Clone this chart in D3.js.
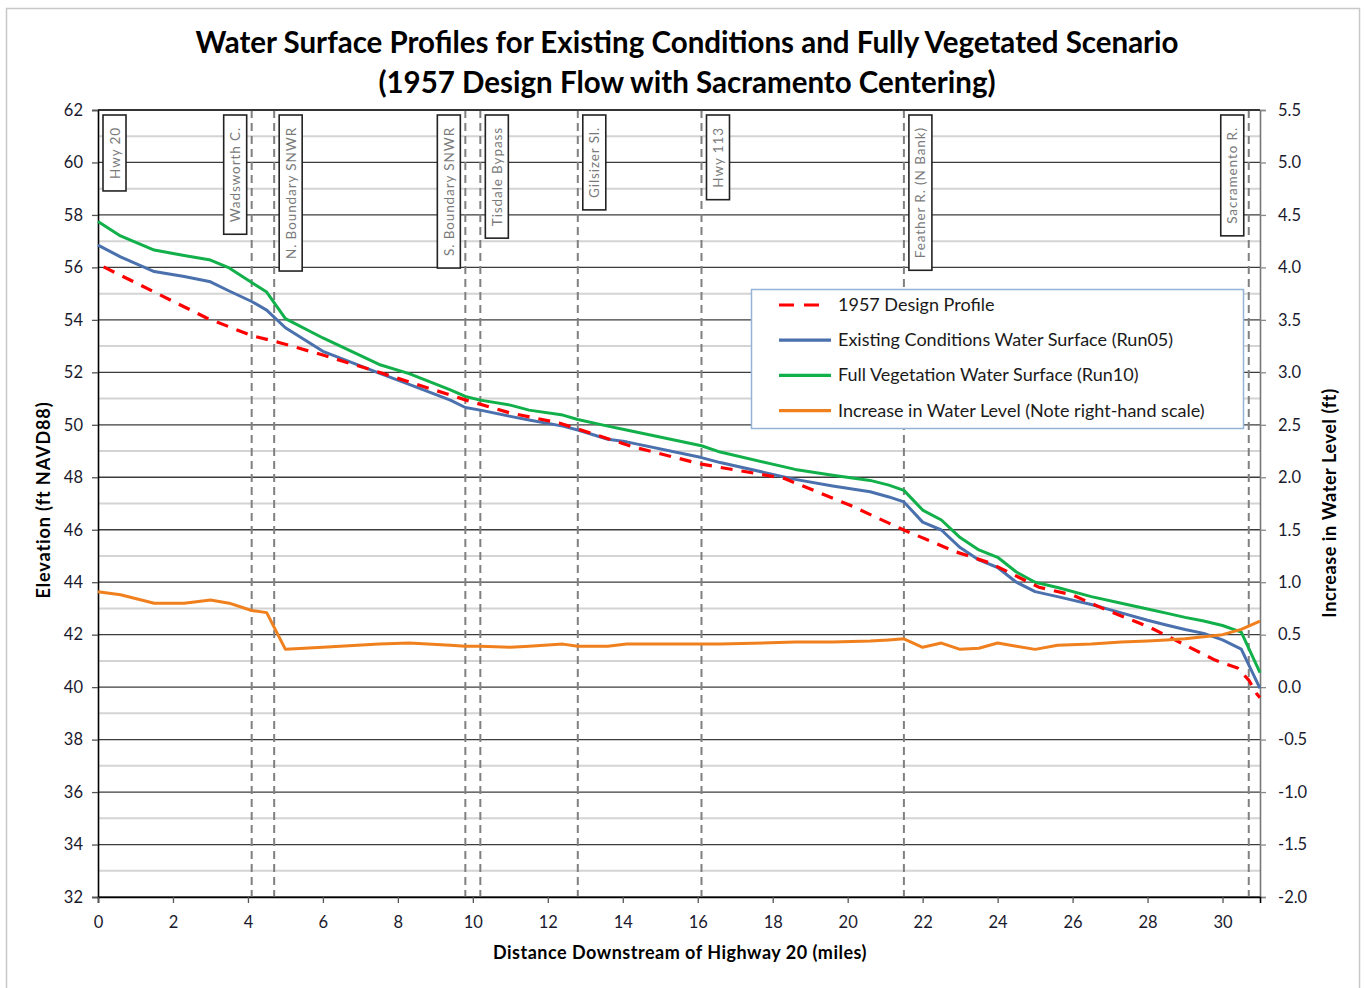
<!DOCTYPE html>
<html><head><meta charset="utf-8">
<script src="https://cdn.jsdelivr.net/npm/d3@7"></script>
<style>body{margin:0;background:#fff} svg{display:block} text{font-family:Lato,"Open Sans",sans-serif}</style>
</head><body><svg id="c" width="1364" height="988"></svg>
<script>
// ---------------- DATA ----------------
const titleLines = ["Water Surface Profiles for Existing Conditions and Fully Vegetated Scenario",
                    "(1957 Design Flow with Sacramento Centering)"];
const xTitle = "Distance Downstream of Highway 20 (miles)";
const yLeftTitle = "Elevation (ft NAVD88)";
const yRightTitle = "Increase in Water Level (ft)";

const stations = [0, 0.6, 1.5, 2.3, 3.0, 3.5, 4.1, 4.5, 5.0, 6.0, 7.5, 8.3, 9.4, 9.8, 10.2, 11.0, 11.5, 12.4, 12.8, 13.6, 14.1,
  16.1, 16.6, 18.6, 19.6, 20.6, 21.1, 21.5, 22.0, 22.5, 23.0, 23.5, 24.0, 24.5, 25.0, 25.6, 26.5, 27.3, 28.0, 28.5, 29.0,
  29.5, 30.0, 30.5, 31.0];
const existingElev = [56.85, 56.4, 55.84, 55.65, 55.45, 55.1, 54.7, 54.37, 53.7, 52.8, 51.97, 51.54, 50.94, 50.66, 50.56,
  50.32, 50.18, 49.95, 49.8, 49.45, 49.35, 48.75, 48.56, 47.92, 47.67, 47.45, 47.25, 47.06, 46.29, 45.99, 45.32, 44.85,
  44.56, 44.0, 43.64, 43.45, 43.15, 42.83, 42.55, 42.37, 42.2, 42.05, 41.8, 41.45, 39.95];
const vegetatedElev = [57.75, 57.2, 56.66, 56.45, 56.28, 55.98, 55.42, 55.06, 54.05, 53.31, 52.3, 51.95, 51.33, 51.08, 50.94,
  50.75, 50.56, 50.37, 50.2, 49.95, 49.8, 49.2, 48.96, 48.3, 48.08, 47.88, 47.7, 47.5, 46.75, 46.37, 45.7, 45.23, 44.95,
  44.39, 44.0, 43.8, 43.45, 43.2, 42.98, 42.82, 42.66, 42.52, 42.35, 42.1, 40.55];
const increaseFt = [0.91, 0.88, 0.80, 0.80, 0.83, 0.80, 0.73, 0.71, 0.36, 0.38, 0.41, 0.42, 0.40, 0.39, 0.39, 0.38, 0.39,
  0.41, 0.39, 0.39, 0.41, 0.41, 0.41, 0.43, 0.43, 0.44, 0.45, 0.46, 0.38, 0.42, 0.36, 0.37, 0.42, 0.39, 0.36, 0.40, 0.41,
  0.43, 0.44, 0.45, 0.46, 0.48, 0.50, 0.55, 0.63];
const designMiles = [0.15, 2.9, 4.1, 4.8, 6.0, 7.5, 9.8, 11.0, 12.3, 14.3, 16.1, 18.3, 20.05, 21.5, 22.9, 23.8, 25.1, 26.0,
  26.9, 28.05, 28.9, 29.8, 30.4, 30.7, 30.9, 31.0];
const designElev = [56.02, 54.07, 53.4, 53.15, 52.66, 52.0, 50.95, 50.45, 50.07, 49.15, 48.5, 47.96, 46.94, 45.99, 45.15,
  44.73, 43.81, 43.51, 42.94, 42.29, 41.68, 41.03, 40.73, 40.27, 39.77, 39.6];

const landmarkMiles = [0, 4.1, 4.7, 9.8, 10.2, 12.8, 16.1, 21.5, 30.7];
const landmarkNames = ["Hwy 20", "Wadsworth C.", "N. Boundary SNWR", "S. Boundary SNWR", "Tisdale Bypass",
  "Gilsizer Sl.", "Hwy 113", "Feather R. (N Bank)", "Sacramento R."];

const seriesNames = ["1957 Design Profile", "Existing Conditions Water Surface (Run05)",
  "Full Vegetation Water Surface (Run10)", "Increase in Water Level (Note right-hand scale)"];

const xTicks = d3.range(0, 31, 2);
const yLeftTicks = d3.range(32, 63, 2);
const yRightTicks = d3.range(-2, 5.51, 0.5);
const yMinorTicks = d3.range(33, 62, 2);

// ---------------- LAYOUT ----------------
const svg = d3.select("#c");
const L = 98, R = 1260, T = 110, B = 897;
const x = d3.scaleLinear().domain([0, 31]).range([L, R]);
const y = d3.scaleLinear().domain([32, 62]).range([B, T]);
const y2 = d3.scaleLinear().domain([-2, 5.5]).range([B, T]);
const colors = ["#ff0000", "#4a71ad", "#12b04a", "#f0801e"];
const leftSide = new Set(["Wadsworth C.", "S. Boundary SNWR", "Sacramento R."]);

// outer frame
svg.append("rect").attr("x", 6.5).attr("y", 8.5).attr("width", 1353).attr("height", 990)
  .attr("fill", "#fff").attr("stroke", "#c8c8c8").attr("stroke-width", 1.5);

// title
svg.selectAll("text.title").data(titleLines).join("text").attr("class", "title")
  .attr("x", 687).attr("y", (d, i) => 53 + i * 40).attr("text-anchor", "middle")
  .attr("font-size", 29.5).attr("font-weight", 700).attr("fill", "#000").text(d => d);

// minor gridlines
svg.append("g").selectAll("line").data(yMinorTicks).join("line")
  .attr("x1", L).attr("x2", R).attr("y1", d => y(d)).attr("y2", d => y(d))
  .attr("stroke", "#d4d4d4").attr("stroke-width", 2);
// major gridlines
svg.append("g").selectAll("line").data(yLeftTicks).join("line")
  .attr("x1", L).attr("x2", R).attr("y1", d => y(d)).attr("y2", d => y(d))
  .attr("stroke", "#3c3c3c").attr("stroke-width", 1.3);

// landmark dashed lines
svg.append("g").selectAll("line").data(landmarkMiles.filter(d => d > 0)).join("line")
  .attr("x1", d => x(d)).attr("x2", d => x(d)).attr("y1", T).attr("y2", B)
  .attr("stroke", "#808080").attr("stroke-width", 2).attr("stroke-dasharray", "8,5");

// landmark label boxes
const lg = svg.append("g");
landmarkNames.forEach((name, i) => {
  const px = x(landmarkMiles[i]);
  const g = lg.append("g");
  const t = g.append("text").attr("font-size", 13.5).attr("fill", "#7a7a7a").attr("letter-spacing", 0.9)
    .attr("text-anchor", "middle").text(name);
  const len = t.node().getComputedTextLength();
  const h = len + 24, w = 23, top = 115;
  const bx = leftSide.has(name) ? px - 5 - w : px + 5;
  g.insert("rect", "text").attr("x", bx).attr("y", top).attr("width", w).attr("height", h)
    .attr("fill", "#fff").attr("stroke", "#222").attr("stroke-width", 1.6);
  t.attr("transform", `translate(${bx + w / 2 + 5},${top + h / 2}) rotate(-90)`);
});

// axes
const hyphen = f => d => f(d).replace("\u2212", "-");
const axL = svg.append("g").attr("transform", `translate(${L},0)`)
  .call(d3.axisLeft(y).tickValues(yLeftTicks).tickSize(6).tickPadding(9).tickFormat(d3.format("d")));
const axR = svg.append("g").attr("transform", `translate(${R},0)`)
  .call(d3.axisRight(y2).tickValues(yRightTicks).tickSize(6).tickPadding(12).tickFormat(hyphen(d3.format(".1f"))));
const axB = svg.append("g").attr("transform", `translate(0,${B})`)
  .call(d3.axisBottom(x).tickValues(xTicks).tickSize(6).tickPadding(13).tickFormat(d3.format("d")));
[axL, axR, axB].forEach(a => {
  a.selectAll("text").attr("font-size", 16.5).attr("fill", "#1a1a2e").style("font-family", "Lato, sans-serif");
  a.selectAll("line").attr("stroke", "#555").attr("stroke-width", 1.3);
  a.select(".domain").attr("stroke", "#000").attr("stroke-width", 1.6);
});
axR.select(".domain").attr("stroke", "#777");
axR.selectAll("line").attr("stroke", "#888");
svg.append("line").attr("x1", L).attr("x2", R).attr("y1", T).attr("y2", T).attr("stroke", "#222").attr("stroke-width", 1.6);

// axis titles
svg.append("text").attr("x", 680).attr("y", 959).attr("text-anchor", "middle")
  .attr("font-size", 18).attr("letter-spacing", 0.5).attr("font-weight", 700).text(xTitle);
svg.append("text").attr("transform", "translate(50,500) rotate(-90)").attr("text-anchor", "middle")
  .attr("font-size", 18).attr("letter-spacing", 0.9).attr("font-weight", 700).text(yLeftTitle);
svg.append("text").attr("transform", "translate(1336,503) rotate(-90)").attr("text-anchor", "middle")
  .attr("font-size", 18).attr("letter-spacing", 0.6).attr("font-weight", 700).text(yRightTitle);

// series
const line = d3.line().x(d => x(d[0])).y(d => d[2](d[1]));
const designPts = designMiles.map((m, i) => [m, designElev[i], y]);
const existPts = stations.map((m, i) => [m, existingElev[i], y]);
const vegPts = stations.map((m, i) => [m, vegetatedElev[i], y]);
const incPts = stations.map((m, i) => [m, increaseFt[i], y2]);
const sg = svg.append("g").attr("fill", "none").attr("stroke-linejoin", "round");
sg.append("path").attr("d", line(existPts)).attr("stroke", colors[1]).attr("stroke-width", 3);
sg.append("path").attr("d", line(vegPts)).attr("stroke", colors[2]).attr("stroke-width", 3);
sg.append("path").attr("d", line(designPts)).attr("stroke", colors[0]).attr("stroke-width", 3.2).attr("stroke-dasharray", "12,9");
sg.append("path").attr("d", line(incPts)).attr("stroke", colors[3]).attr("stroke-width", 3);

// legend
const leg = svg.append("g");
leg.append("rect").attr("x", 751.5).attr("y", 289.5).attr("width", 492).attr("height", 139)
  .attr("fill", "#fff").attr("stroke", "#95b3d7").attr("stroke-width", 1.5);
seriesNames.forEach((n, i) => {
  const ly = 305 + i * 35.2;
  leg.append("line").attr("x1", 779).attr("x2", i === 0 ? 822 : 831).attr("y1", ly).attr("y2", ly)
    .attr("stroke", colors[i]).attr("stroke-width", 3.2).attr("stroke-dasharray", i === 0 ? "15,10" : null);
  leg.append("text").attr("x", 838).attr("y", ly + 6).attr("font-size", 18).attr("fill", "#1a1a1a").text(n);
});
</script></body></html>
